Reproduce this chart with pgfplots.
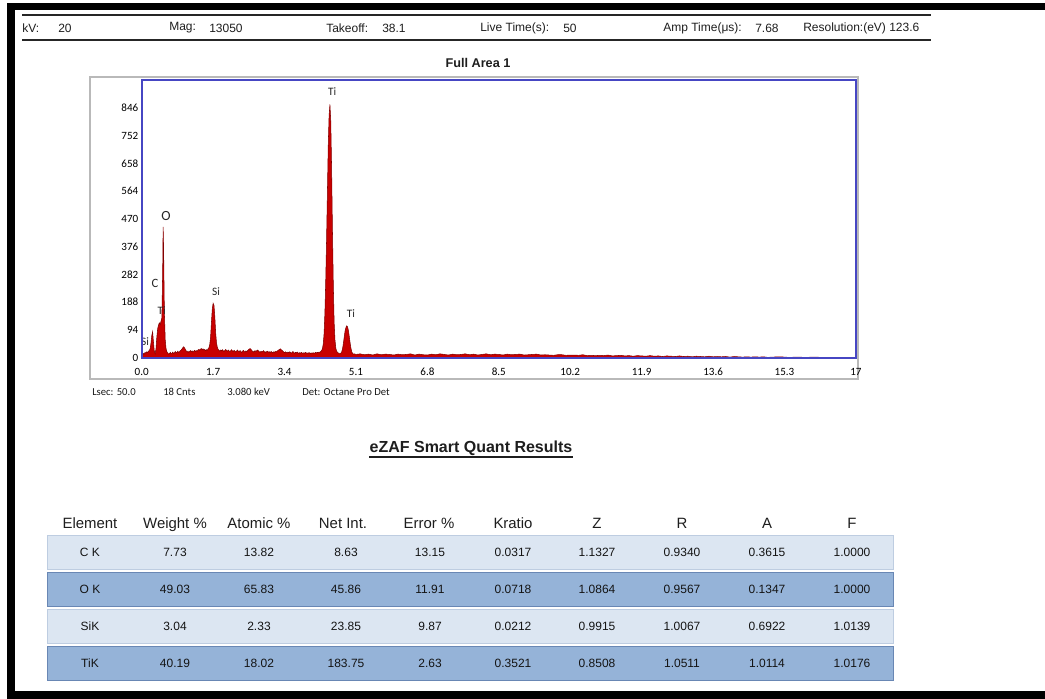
\documentclass[border=0pt]{standalone}
\usepackage{fontspec}
\setmainfont{Liberation Sans}
\newfontfamily\carl{Carlito}
\usepackage{pgfplots}
\usepackage{pgfplotstable}
\pgfplotsset{compat=1.18}

\definecolor{specred}{RGB}{200,0,0}
\definecolor{specdark}{RGB}{130,0,0}
\definecolor{axisblue}{RGB}{70,70,195}
\definecolor{framegray}{RGB}{185,185,185}
\definecolor{rowlight}{RGB}{220,230,242}
\definecolor{rowdark}{RGB}{149,179,216}
\definecolor{rowdarkedge}{RGB}{105,135,180}
\definecolor{rowlightedge}{RGB}{190,205,225}
\definecolor{txt}{RGB}{30,30,30}

% EDS spectrum: energy (keV) vs counts
\pgfplotstableread{
E cnt
0.00 0
0.02 8
0.04 14
0.06 12
0.08 18
0.10 15
0.12 20
0.14 17
0.16 22
0.18 24
0.20 30
0.22 48
0.24 75
0.26 88
0.28 52
0.30 22
0.32 14
0.34 30
0.36 70
0.38 98
0.40 110
0.42 118
0.44 112
0.46 124
0.48 135
0.50 300
0.51 443
0.52 380
0.54 150
0.56 60
0.58 30
0.60 20
0.62 16
0.64 12
0.66 14
0.68 18
0.70 13
0.72 15
0.74 19
0.76 14
0.78 17
0.80 21
0.82 16
0.84 18
0.86 22
0.88 17
0.90 20
0.92 24
0.94 26
0.96 30
0.98 34
1.00 37
1.02 33
1.04 28
1.06 23
1.08 19
1.10 22
1.12 18
1.14 21
1.16 24
1.18 20
1.20 23
1.22 19
1.24 22
1.26 25
1.28 21
1.30 24
1.32 22
1.34 26
1.36 28
1.38 25
1.40 29
1.42 31
1.44 27
1.46 30
1.48 26
1.50 28
1.52 24
1.54 27
1.56 25
1.58 30
1.60 34
1.62 45
1.64 70
1.66 120
1.68 165
1.70 184
1.72 178
1.74 140
1.76 85
1.78 50
1.80 35
1.82 28
1.84 25
1.86 22
1.88 26
1.90 23
1.92 27
1.94 24
1.96 21
1.98 25
2.00 28
2.02 24
2.04 22
2.06 26
2.08 23
2.10 20
2.12 24
2.14 27
2.16 23
2.18 21
2.20 25
2.22 22
2.24 19
2.26 23
2.28 26
2.30 22
2.32 20
2.34 24
2.36 21
2.38 18
2.40 22
2.42 25
2.44 21
2.46 19
2.48 23
2.50 20
2.52 24
2.54 27
2.56 29
2.58 31
2.60 28
2.62 25
2.64 21
2.66 19
2.68 23
2.70 20
2.72 24
2.74 22
2.76 26
2.78 23
2.80 20
2.82 18
2.84 22
2.86 19
2.88 21
2.90 24
2.92 20
2.94 17
2.96 21
2.98 19
3.00 22
3.02 18
3.04 20
3.06 17
3.08 21
3.10 19
3.12 16
3.14 20
3.16 18
3.18 21
3.20 19
3.22 22
3.24 24
3.26 26
3.28 28
3.30 30
3.32 27
3.34 25
3.36 22
3.38 19
3.40 17
3.42 20
3.44 18
3.46 16
3.48 19
3.50 17
3.52 20
3.54 18
3.56 15
3.58 18
3.60 21
3.62 17
3.64 15
3.66 18
3.68 16
3.70 19
3.72 17
3.74 14
3.76 17
3.78 15
3.80 18
3.82 16
3.84 14
3.86 17
3.88 15
3.90 18
3.92 16
3.94 14
3.96 17
3.98 15
4.00 17
4.02 14
4.04 16
4.06 15
4.08 17
4.10 15
4.12 16
4.14 18
4.16 16
4.18 18
4.20 17
4.22 19
4.24 18
4.26 21
4.28 24
4.30 30
4.32 45
4.34 80
4.36 150
4.38 260
4.40 400
4.42 560
4.44 720
4.46 820
4.48 857
4.50 800
4.52 640
4.54 430
4.56 250
4.58 120
4.60 60
4.62 32
4.64 22
4.66 18
4.68 16
4.70 14
4.72 13
4.74 15
4.76 20
4.78 30
4.80 48
4.82 70
4.84 90
4.86 102
4.88 108
4.90 104
4.92 92
4.94 72
4.96 50
4.98 32
5.00 20
5.02 14
5.04 12
5.06 13
5.1 11
5.2 13
5.3 10
5.4 12
5.5 9
5.6 13
5.7 10
5.8 12
5.9 11
6.0 9
6.1 12
6.2 10
6.3 11
6.4 13
6.5 9
6.6 12
6.7 10
6.8 9
6.9 12
7.0 10
7.1 13
7.2 11
7.3 9
7.4 12
7.5 10
7.6 11
7.7 13
7.8 10
7.9 12
8.0 9
8.1 11
8.2 13
8.3 10
8.4 12
8.5 11
8.6 9
8.7 12
8.8 10
8.9 11
9.0 12
9.1 9
9.2 10
9.3 11
9.4 12
9.5 9
9.6 10
9.7 9
9.8 8
9.9 10
10.0 10
10.1 8
10.2 9
10.3 9
10.4 8
10.5 10
10.6 7
10.7 8
10.8 7
10.9 8
11.0 7
11.1 9
11.2 6
11.3 7
11.4 8
11.5 6
11.6 7
11.7 5
11.8 7
11.9 6
12.0 5
12.1 7
12.2 5
12.3 6
12.4 4
12.5 6
12.6 5
12.7 4
12.8 6
12.9 4
13.0 5
13.1 3
13.2 5
13.3 4
13.4 3
13.5 5
13.6 3
13.7 4
13.8 3
13.9 4
14.0 2
14.1 4
14.2 3
14.3 2
14.4 3
14.5 2
14.6 3
14.7 2
14.8 3
14.9 1
15.0 2
15.2 3
15.4 1
15.6 2
15.8 1
16.0 2
16.2 1
16.4 1
16.6 0
16.8 1
17.0 0
}\spectrum

\newcommand{\hdr}{\fontsize{9}{10}\selectfont}
\newcommand{\ticklab}{\carl\fontsize{8.3}{9}\selectfont}

\begin{document}
\begin{tikzpicture}[x=0.75pt,y=0.75pt]
\useasboundingbox (0,0) rectangle (1045,699);
\fill[white] (0,0) rectangle (1045,699);

% page frame
\fill[black] (7,0) rectangle (15,696);
\fill[black] (7,689) rectangle (1045,696);
\fill[black] (7,0) rectangle (1045,8);

% acquisition header
\draw[line width=2pt, black!85] (22,684) -- (931,684);
\draw[line width=2pt, black!85] (22,659) -- (931,659);
\begin{scope}[every node/.style={anchor=west, inner sep=0pt, font=\hdr, text=txt}]
\node at (22,671) {kV:};
\node at (58,671) {20};
\node at (169,671) {Mag:};
\node at (209,671) {13050};
\node at (326,671) {Takeoff:};
\node at (382,671) {38.1};
\node at (480,671) {Live Time(s):};
\node at (563,671) {50};
\node at (663,671) {Amp Time(μs):};
\node at (755,671) {7.68};
\node at (803,671) {Resolution:(eV) 123.6};
\end{scope}

\node[font=\bfseries\fontsize{9.5}{11}\selectfont, text=txt] at (478,636) {Full Area 1};

% spectrum panel
\draw[framegray, line width=1.1pt] (90,320) rectangle (858,622);
\coordinate (axorig) at (141.7,341.3);

\begin{axis}[
  at={(axorig)}, anchor=south west,
  scale only axis, width=535.7pt, height=208.3pt,
  xmin=0, xmax=17, ymin=0, ymax=940,
  xtick={0,1.7,3.4,5.1,6.8,8.5,10.2,11.9,13.6,15.3,17},
  xticklabels={0.0,1.7,3.4,5.1,6.8,8.5,10.2,11.9,13.6,15.3,17},
  ytick={0,94,188,282,376,470,564,658,752,846},
  yticklabels={0,94,188,282,376,470,564,658,752,846},
  major tick length=0pt,
  tick label style={font=\ticklab, text=black},
  xticklabel style={yshift=-1pt, text height=1.6ex, text depth=0.2ex},
  yticklabel style={xshift=1pt},
  axis line style={draw=axisblue, line width=1.4pt},
  axis on top,
  clip=false,
]
\addplot[fill=specred, draw=specdark, line width=0.4pt] table[x=E, y=cnt] {\spectrum} \closedcycle;
\begin{scope}[every node/.style={font=\carl\fontsize{8.5}{9}\selectfont, text=black!85, inner sep=0pt}]
\node at (axis cs:4.536,900) {Ti};
\node[font=\carl\fontsize{10.5}{11}\selectfont] at (axis cs:0.578,480) {O};
\node[font=\carl\fontsize{9.5}{10}\selectfont] at (axis cs:0.317,253) {C};
\node at (axis cs:0.476,161) {Ti};
\node at (axis cs:1.768,222) {Si};
\node at (axis cs:4.98,148) {Ti};
\node at (axis cs:0.079,53) {Si};
\end{scope}
\end{axis}

\begin{scope}[every node/.style={anchor=west, inner sep=0pt, font=\carl\fontsize{8}{9}\selectfont, text=black!90}]
\node at (92,307) {Lsec: 50.0};
\node at (163,307) {18 Cnts};
\node at (227,307) {3.080 keV};
\node at (302,307) {Det: Octane Pro Det};
\end{scope}

% quantification table
\node[font=\bfseries\fontsize{12}{14}\selectfont, text=txt, inner sep=0pt] (qt) at (471,251) {eZAF Smart Quant Results};
\draw[line width=1pt, txt] (qt.south west |- 0,242) -- (qt.south east |- 0,242);

\foreach \lab/\cx in {Element/90, Weight \%/175, Atomic \%/259, Net Int./343, Error \%/429, Kratio/513, Z/597, R/682, A/767, F/852}
  \node[font=\fontsize{11.2}{13}\selectfont, text=txt, text height=1.5ex, text depth=0.1ex] at (\cx,175) {\lab};

\foreach \ylo/\yhi/\fc/\ec in {130/164/rowlight/rowlightedge, 93/127/rowdark/rowdarkedge, 56/90/rowlight/rowlightedge, 19/53/rowdark/rowdarkedge} {
  \fill[black!25] (48,\ylo-1.5) rectangle (894,\yhi-1);
  \filldraw[fill=\fc, draw=\ec, line width=0.6pt] (47,\ylo) rectangle (893,\yhi);
}

\foreach \row/\yc in {{C K,7.73,13.82,8.63,13.15,0.0317,1.1327,0.9340,0.3615,1.0000}/147,
                     {O K,49.03,65.83,45.86,11.91,0.0718,1.0864,0.9567,0.1347,1.0000}/110,
                     {SiK,3.04,2.33,23.85,9.87,0.0212,0.9915,1.0067,0.6922,1.0139}/73,
                     {TiK,40.19,18.02,183.75,2.63,0.3521,0.8508,1.0511,1.0114,1.0176}/36} {
  \foreach \val [count=\i] in \row {
    \pgfmathsetmacro{\cx}{{90,175,259,346,430,513,597,682,767,852}[\i-1]}
    \node[font=\fontsize{9}{10}\selectfont, text=black!92] at (\cx,\yc) {\val};
  }
}
\end{tikzpicture}
\end{document}
